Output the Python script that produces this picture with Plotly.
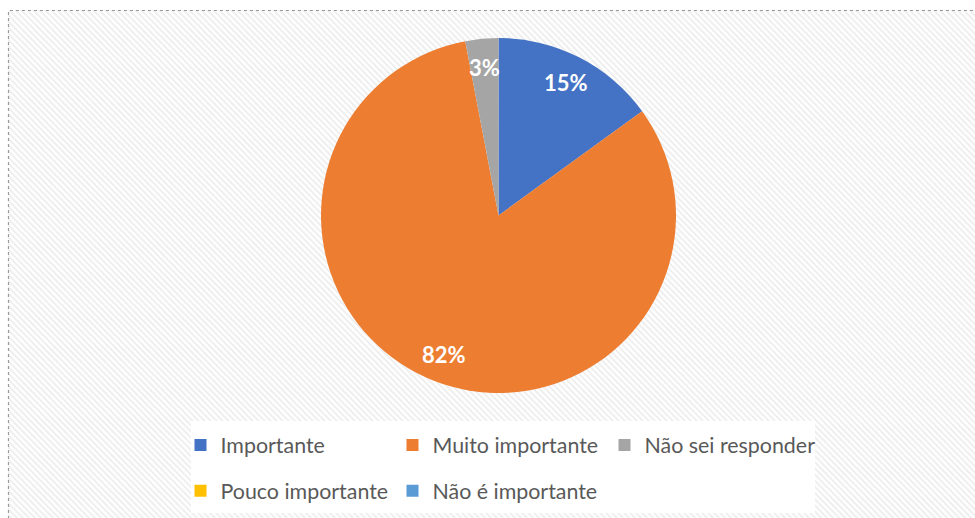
import base64
import math
import plotly.graph_objects as go

# Survey answers and their share of respondents (%)
categories = ["Importante", "Muito importante", "Não sei responder",
              "Pouco importante", "Não é importante"]
shares = [15, 82, 3, 0, 0]
colors = ["#4472C4", "#ED7D31", "#A5A5A5", "#FFC000", "#5B9BD5"]

W, H = 975, 518
M = dict(l=161, r=139, t=38, b=125, autoexpand=False)
PW = W - M["l"] - M["r"]
PH = H - M["t"] - M["b"]


def px_x(x):
    return (x - M["l"]) / PW


def px_y(y):
    return 1 - (y - M["t"]) / PH


# faint diagonal hatching used as the chart-area fill
hatch_svg = (
    "<svg xmlns='http://www.w3.org/2000/svg' width='1000' height='520'>"
    "<defs><pattern id='h' width='4.3' height='4.3' patternUnits='userSpaceOnUse' "
    "patternTransform='rotate(-45)'>"
    "<rect width='4.3' height='4.3' fill='#fefefe'/>"
    "<rect width='1.8' height='4.3' fill='#eeeeee'/></pattern></defs>"
    "<rect width='1000' height='520' fill='url(#h)'/></svg>"
)
hatch_uri = "data:image/svg+xml;base64," + base64.b64encode(hatch_svg.encode()).decode()

legend_labels = [f"<span style='font-size:21.4px;baseline-shift:5px'>{c}</span>"
                 for c in categories]

fig = go.Figure(go.Pie(
    labels=legend_labels,
    values=shares,
    sort=False,
    direction="clockwise",
    rotation=0,
    marker=dict(colors=colors, line=dict(width=0)),
    textinfo="none",
    hovertemplate="%{label}: %{percent:.0%}<extra></extra>",
))

# percentage labels, placed at the middle angle of each slice
total = sum(shares)
cx, cy = M["l"] + PW / 2, M["t"] + PH / 2
radius = min(PW, PH) / 2
annotations = []
start = 0.0
for v in shares:
    if v > 0:
        mid = 2 * math.pi * (start + v / 2) / total
        lx = cx + 0.84 * radius * math.sin(mid)
        ly = cy - 0.84 * radius * math.cos(mid)
        annotations.append(dict(
            x=px_x(lx), y=px_y(ly), xref="paper", yref="paper",
            xanchor="center", yanchor="middle",
            text=f"{v / total:.0%}", showarrow=False,
            font=dict(family="Lato", size=22, color="white", weight="bold"),
        ))
    start += v

fig.update_layout(
    width=W, height=H,
    margin=M,
    paper_bgcolor="white",
    font=dict(family="Lato", color="#595959"),
    annotations=annotations,
    images=[dict(
        source=hatch_uri, xref="paper", yref="paper",
        x=px_x(8), y=px_y(10), sizex=px_x(W + 20) - px_x(8),
        sizey=px_y(10) - px_y(H + 20), xanchor="left", yanchor="top",
        sizing="stretch", layer="below",
    )],
    shapes=[
        dict(type="rect", xref="paper", yref="paper",
             x0=px_x(191), x1=px_x(815), y0=px_y(513), y1=px_y(421),
             line=dict(width=0), fillcolor="white", layer="above"),
        dict(type="rect", xref="paper", yref="paper",
             x0=px_x(8.5), x1=px_x(W + 20), y0=px_y(H + 20), y1=px_y(10.5),
             line=dict(color="#9a9a9a", width=1.2, dash="dot"),
             fillcolor="rgba(0,0,0,0)", layer="above"),
    ],
    legend=dict(
        orientation="h",
        xref="paper", yref="paper",
        x=px_x(180.5), y=px_y(417), xanchor="left", yanchor="top",
        entrywidth=167, entrywidthmode="pixels",
        font=dict(family="Lato", size=33, color="#595959"),
        bgcolor="rgba(0,0,0,0)",
        traceorder="normal",
    ),
)

fig.write_html("out.html")
